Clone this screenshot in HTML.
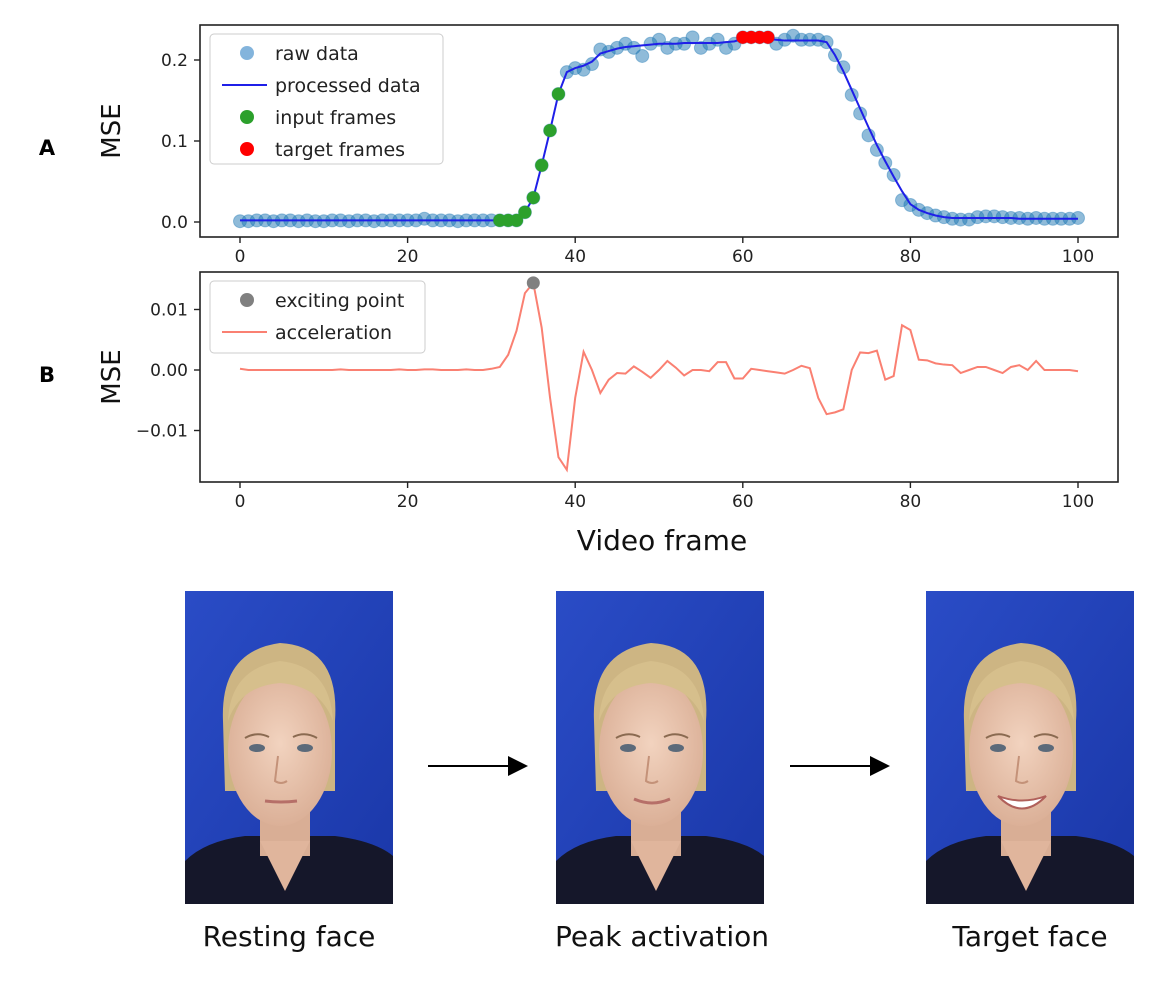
<!DOCTYPE html>
<html><head><meta charset="utf-8"><style>
body{margin:0;background:#fff;width:1150px;height:980px;overflow:hidden}
svg text{font-family:"DejaVu Sans","Liberation Sans",sans-serif}
</style></head><body>
<svg id="fig" width="1150" height="980" viewBox="0 0 1150 980">
<defs>
<linearGradient id="bg" x1="0" y1="0" x2="1" y2="1"><stop offset="0" stop-color="#2a4cc6"/><stop offset="1" stop-color="#1a37a8"/></linearGradient>
<radialGradient id="skin" cx="0.5" cy="0.45" r="0.6"><stop offset="0" stop-color="#f2d3bf"/><stop offset="1" stop-color="#d9ad94"/></radialGradient>
<marker id="ah" markerWidth="10" markerHeight="10" refX="9" refY="5" orient="auto"><path d="M0,0 L10,5 L0,10 z" fill="#000"/></marker>
</defs>
<text x="47" y="155" font-size="21" font-weight="bold" text-anchor="middle">A</text>
<text x="47" y="382" font-size="21" font-weight="bold" text-anchor="middle">B</text>
<g id="pa"></g>
<g id="pb"></g>
<text x="662" y="550" font-size="28" text-anchor="middle" fill="#111">Video frame</text>
<g id="photos"></g>
<line x1="428" y1="766" x2="526" y2="766" stroke="#000" stroke-width="2" marker-end="url(#ah)"/>
<line x1="790" y1="766" x2="888" y2="766" stroke="#000" stroke-width="2" marker-end="url(#ah)"/>
<text x="289" y="946" font-size="28" text-anchor="middle" fill="#111">Resting face</text>
<text x="662" y="946" font-size="28" text-anchor="middle" fill="#111">Peak activation</text>
<text x="1030" y="946" font-size="28" text-anchor="middle" fill="#111">Target face</text>
</svg>
<script>
const NS="http://www.w3.org/2000/svg";
const xTicks=[0,20,40,60,80,100];
const aYTicks=[0.0,0.1,0.2];
const aYTickLabels=["0.0","0.1","0.2"];
const bYTicks=[0.01,0.0,-0.01];
const bYTickLabels=["0.01","0.00","−0.01"];
const rawData=[0.001,0.001,0.002,0.002,0.001,0.002,0.002,0.001,0.002,0.001,0.001,0.002,0.002,0.001,0.002,0.002,0.001,0.002,0.002,0.002,0.002,0.002,0.004,0.002,0.002,0.002,0.001,0.002,0.002,0.002,0.002,0.002,0.002,0.002,0.012,0.03,0.07,0.113,0.158,0.185,0.19,0.188,0.195,0.213,0.21,0.215,0.22,0.215,0.205,0.22,0.225,0.215,0.22,0.22,0.228,0.215,0.22,0.225,0.215,0.22,0.228,0.228,0.228,0.228,0.22,0.225,0.23,0.225,0.225,0.225,0.222,0.206,0.191,0.157,0.134,0.107,0.089,0.073,0.058,0.027,0.021,0.015,0.011,0.008,0.006,0.004,0.003,0.003,0.006,0.007,0.007,0.006,0.005,0.005,0.004,0.005,0.004,0.004,0.004,0.004,0.005];
const processedData=[0.002,0.002,0.002,0.002,0.002,0.002,0.002,0.002,0.002,0.002,0.002,0.002,0.002,0.002,0.002,0.002,0.002,0.002,0.002,0.002,0.002,0.002,0.002,0.002,0.002,0.002,0.002,0.002,0.002,0.002,0.002,0.002,0.003,0.004,0.012,0.03,0.07,0.113,0.158,0.185,0.19,0.193,0.198,0.208,0.211,0.214,0.216,0.217,0.218,0.219,0.22,0.22,0.22,0.221,0.221,0.221,0.221,0.221,0.222,0.223,0.226,0.226,0.226,0.226,0.225,0.224,0.224,0.224,0.224,0.224,0.222,0.206,0.186,0.163,0.14,0.117,0.095,0.075,0.056,0.038,0.022,0.015,0.011,0.008,0.006,0.005,0.005,0.005,0.005,0.005,0.005,0.005,0.005,0.004,0.004,0.004,0.004,0.004,0.004,0.004,0.004];
const inputFrames=[31,32,33,34,35,36,37,38];
const targetFrames=[60,61,62,63];
const accel=[0.0002,0,0,0,0,0,0,0,0,0,0,0,0.0001,0,0,0,0,0,0,0.0001,0,0,0.0001,0.0001,0,0,0,0.0001,0,0,0.0002,0.0005,0.0025,0.0065,0.0127,0.0144,0.007,-0.0046,-0.0144,-0.0165,-0.0046,0.003,0,-0.0038,-0.0016,-0.0005,-0.0006,0.0006,-0.0003,-0.0013,0,0.0015,0.0004,-0.0009,0,0,-0.0002,0.0013,0.0013,-0.0014,-0.0014,0.0002,0,-0.0002,-0.0004,-0.0006,0,0.0007,0.0003,-0.0046,-0.0073,-0.007,-0.0065,0,0.0029,0.0028,0.0032,-0.0016,-0.001,0.0074,0.0066,0.0017,0.0016,0.0011,0.0009,0.0008,-0.0005,0,0.0005,0.0005,0,-0.0005,0.0005,0.0008,0,0.0015,0,0,0,0,-0.0002];
const excitingFrame=35;

function el(tag,attrs,parent){const e=document.createElementNS(NS,tag);for(const k in attrs)e.setAttribute(k,attrs[k]);parent.appendChild(e);return e;}
const X=f=>240+f*8.38;
const yA=v=>222-v*810;
const yB=v=>370-v*6050;

function axes(g,top,bottom,yTicks,yLabels,yf,name){
  const r=el('rect',{x:200,y:top,width:918,height:bottom-top,fill:'#fff',stroke:'#222','stroke-width':1.6},g);
  
  
  xTicks.forEach(t=>{
    const l=el('line',{x1:X(t),x2:X(t),y1:bottom,y2:bottom+6,stroke:'#222','stroke-width':1.4},g);
    
    
    const tx=el('text',{x:X(t),y:bottom+25,'font-size':17,'text-anchor':'middle',fill:'#222'},g);
    tx.textContent=t;
    
    
  });
  yTicks.forEach((t,i)=>{
    const l=el('line',{x1:194,x2:200,y1:yf(t),y2:yf(t),stroke:'#222','stroke-width':1.4},g);
    
    
    const tx=el('text',{x:188,y:yf(t)+6,'font-size':17,'text-anchor':'end',fill:'#222'},g);
    tx.textContent=yLabels[i];
    
    
  });
  const yl=el('text',{x:0,y:0,'font-size':26,'text-anchor':'middle',fill:'#111',transform:`translate(120,${(top+bottom)/2}) rotate(-90)`},g);
  yl.textContent='MSE';
  
  
}
const pa=document.getElementById('pa'), pb=document.getElementById('pb');
axes(pa,25,237,aYTicks,aYTickLabels,yA,'panel-a');
axes(pb,272,482,bYTicks,bYTickLabels,yB,'panel-b');

rawData.forEach((v,i)=>{
  const c=el('circle',{cx:X(i),cy:yA(v),r:6.5,fill:'#1f77b4','fill-opacity':0.5,stroke:'#1f77b4','stroke-opacity':0.4},pa);
  
  
});
const pl=el('polyline',{points:processedData.map((v,i)=>X(i)+','+yA(v)).join(' '),fill:'none',stroke:'#1f1fe8','stroke-width':2},pa);


inputFrames.forEach(f=>{
  const c=el('circle',{cx:X(f),cy:yA(rawData[f]),r:6.5,fill:'#2ca02c'},pa);
  
  
});
targetFrames.forEach(f=>{
  const c=el('circle',{cx:X(f),cy:yA(rawData[f]),r:6.5,fill:'#ff0000'},pa);
  
  
});
const al=el('polyline',{points:accel.map((v,i)=>X(i)+','+yB(v)).join(' '),fill:'none',stroke:'#fa8072','stroke-width':2},pb);


const ep=el('circle',{cx:X(excitingFrame),cy:yB(accel[excitingFrame]),r:6.5,fill:'#808080'},pb);



function legend(g,x,y,w,h,items,name){
  const r=el('rect',{x:x,y:y,width:w,height:h,rx:4,fill:'#fff','fill-opacity':0.85,stroke:'#ccc'},g);
  
  
  items.forEach((it,i)=>{
    const cy=y+19+i*32;
    let m;
    if(it.type==='line') m=el('line',{x1:x+12,x2:x+57,y1:cy,y2:cy,stroke:it.color,'stroke-width':2},g);
    else m=el('circle',{cx:x+37,cy:cy,r:7,fill:it.color,'fill-opacity':it.op||1},g);
    
    
    const t=el('text',{x:x+65,y:cy+7,'font-size':19,fill:'#222'},g);
    t.textContent=it.label;
    
    
  });
}
legend(pa,210,34,233,130,[{label:'raw data',color:'#5a9bd0',op:0.75},{label:'processed data',color:'#1f1fe8',type:'line'},{label:'input frames',color:'#2ca02c'},{label:'target frames',color:'#ff0000'}],'legend-panel-a');
legend(pb,210,281,215,72,[{label:'exciting point',color:'#808080'},{label:'acceleration',color:'#fa8072',type:'line'}],'legend-panel-b');

const photos=document.getElementById('photos');
[[185,'neutral','resting-face-photo'],[556,'slight','peak-activation-photo'],[926,'smile','target-face-photo']].forEach(([x,m,name])=>{
  const g=el('g',{transform:`translate(${x},591)`},photos);
  
  
  el('rect',{x:0,y:0,width:208,height:313,fill:'url(#bg)'},g);
  el('path',{d:'M0,270 Q20,250 60,245 L150,245 Q190,250 208,265 L208,313 L0,313 z',fill:'#15172a'},g);
  el('rect',{x:75,y:215,width:50,height:50,fill:'#d9ae95'},g);
  el('path',{d:'M75,250 L100,300 L125,250 z',fill:'#e0b59c'},g);
  el('path',{d:'M38,130 Q35,60 95,52 Q155,55 150,130 L150,200 L40,200 z',fill:'#cdb583'},g);
  el('ellipse',{cx:95,cy:160,rx:52,ry:75,fill:'url(#skin)'},g);
  el('path',{d:'M43,130 Q45,78 95,70 Q145,75 148,130 Q135,95 95,92 Q55,95 43,130 z',fill:'#d6bf8c'},g);
  el('ellipse',{cx:72,cy:157,rx:8,ry:4,fill:'#5b6a7a'},g);
  el('ellipse',{cx:120,cy:157,rx:8,ry:4,fill:'#5b6a7a'},g);
  el('path',{d:'M60,147 Q72,140 84,146 M108,146 Q120,140 132,147',stroke:'#8a6a50','stroke-width':2,fill:'none'},g);
  el('path',{d:'M93,165 L90,190 Q96,194 102,190',stroke:'#c49279','stroke-width':2,fill:'none'},g);
  if(m==='smile'){el('path',{d:'M72,205 Q96,230 120,205 Q96,214 72,205 z',fill:'#fff',stroke:'#b0605a','stroke-width':2},g);}
  else if(m==='slight'){el('path',{d:'M78,208 Q96,216 114,208',stroke:'#b66f68','stroke-width':3,fill:'none'},g);}
  else {el('path',{d:'M80,210 Q96,212 112,210',stroke:'#b66f68','stroke-width':3,fill:'none'},g);}
});
</script>
</body></html>
